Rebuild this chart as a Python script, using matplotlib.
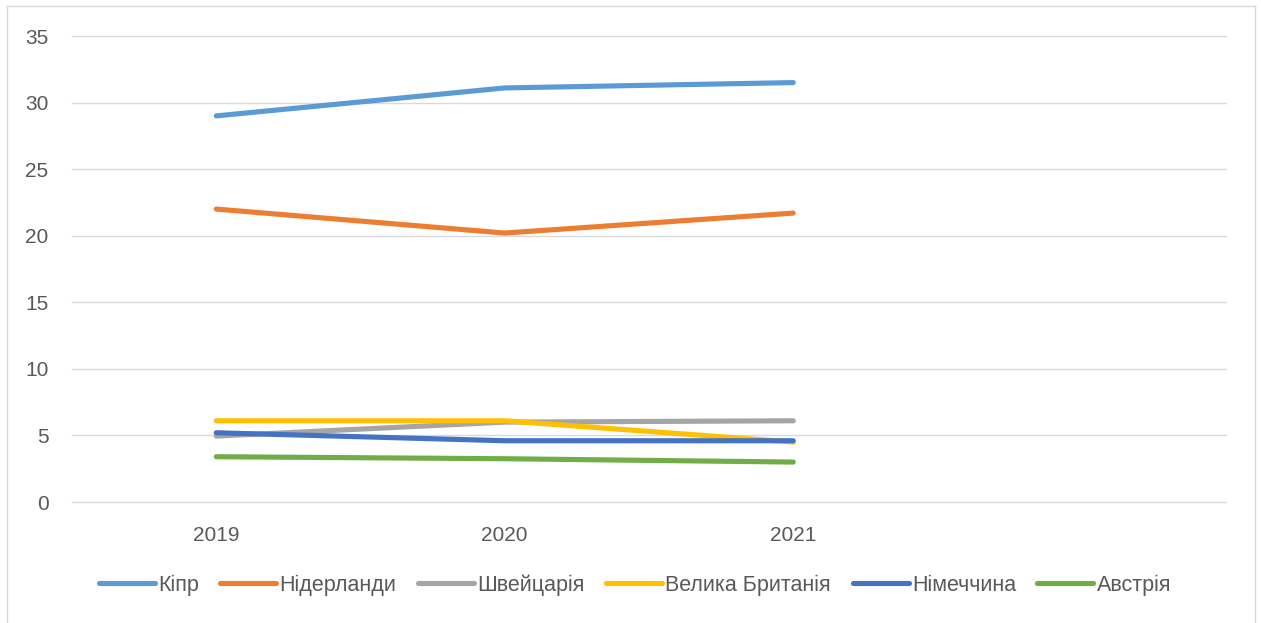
import matplotlib.pyplot as plt
from matplotlib.lines import Line2D

years = ['2019', '2020', '2021']
cyprus = [29.0, 31.1, 31.5]
netherlands = [22.0, 20.2, 21.7]
switzerland = [4.95, 6.0, 6.1]
uk = [6.1, 6.1, 4.5]
germany = [5.2, 4.6, 4.6]
austria = [3.4, 3.25, 3.0]

series = [
    ('Кіпр', cyprus, '#5B9BD5'),
    ('Нідерланди', netherlands, '#ED7D31'),
    ('Швейцарія', switzerland, '#A5A5A5'),
    ('Велика Британія', uk, '#FFC000'),
    ('Німеччина', germany, '#4472C4'),
    ('Австрія', austria, '#70AD47'),
]

plt.rcParams['font.family'] = ['Liberation Sans', 'DejaVu Sans']
text_color = '#595959'

W, H = 1261, 623
fig = plt.figure(figsize=(W / 100, H / 100), dpi=100)
ax = fig.add_axes([72 / W, 1 - 502 / H, (1226 - 72) / W, (502 - 36) / H])

# 4 category slots, only the first 3 filled
x = [i + 0.5 for i in range(len(years))]
for name, vals, color in series:
    ax.plot(x, vals, color=color, lw=3.7, solid_capstyle='round', label=name)

ax.set_xlim(0, 4)
ax.set_ylim(0, 35)
ax.set_yticks(range(0, 36, 5))
ax.set_xticks(x)
ax.set_xticklabels(years)
ax.grid(axis='y', color='#D9D9D9', lw=1)
for gl in ax.get_ygridlines():
    gl.set_clip_on(False)
ax.set_axisbelow(True)
for s in ax.spines.values():
    s.set_visible(False)
ax.tick_params(length=0, labelsize=15, colors=text_color)
ax.tick_params(axis='y', pad=17)
ax.tick_params(axis='x', pad=17)

handles = [Line2D([], [], color=c, lw=3.7, solid_capstyle='round') for _, _, c in series]
fig.legend(handles, [n for n, _, _ in series], loc='center', ncol=6,
           bbox_to_anchor=(635 / W, 1 - 585 / H), frameon=False,
           fontsize=15.5, labelcolor=text_color, handlelength=2.6,
           handletextpad=0.15, columnspacing=1.0)

# chart area border
for xs, ys in [((7, 7), (6, H)), ((7, 1255), (6, 6)), ((1255, 1255), (6, H))]:
    fig.add_artist(Line2D([v / W for v in xs], [1 - v / H for v in ys],
                          color='#D9D9D9', lw=1))

fig.savefig('out.png', dpi=100)
